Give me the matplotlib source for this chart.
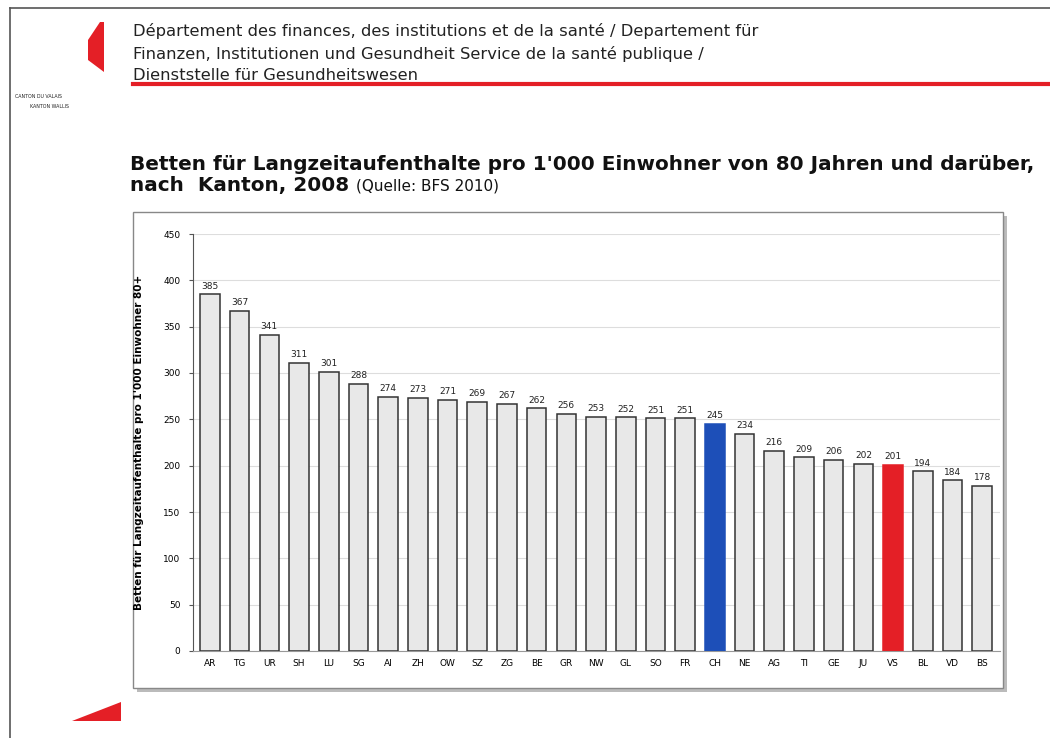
import matplotlib
matplotlib.use("Agg")
import matplotlib.pyplot as plt
from matplotlib.patches import Rectangle, Polygon
from matplotlib.lines import Line2D

plt.rcParams['font.family'] = ['DejaVu Sans']

cantons = ["AR", "TG", "UR", "SH", "LU", "SG", "AI", "ZH", "OW", "SZ", "ZG", "BE", "GR", "NW",
           "GL", "SO", "FR", "CH", "NE", "AG", "TI", "GE", "JU", "VS", "BL", "VD", "BS"]
values = [385, 367, 341, 311, 301, 288, 274, 273, 271, 269, 267, 262, 256, 253,
          252, 251, 251, 245, 234, 216, 209, 206, 202, 201, 194, 184, 178]
highlight = {"CH": "#1d4fb8", "VS": "#e41f26"}
yticks = [0, 50, 100, 150, 200, 250, 300, 350, 400, 450]

W, H = 1050, 738
fig = plt.figure(figsize=(W / 100, H / 100), dpi=100)
fig.patch.set_facecolor("white")

def fx(x):
    return x / W

def fy(y):
    return 1 - y / H

# slide border lines
fig.add_artist(Line2D([fx(10), fx(10)], [fy(8), fy(738)], color="#555555", lw=1.2))
fig.add_artist(Line2D([fx(10), fx(1050)], [fy(8), fy(8)], color="#555555", lw=1.2))

# logo
fig.add_artist(Polygon([(fx(88), fy(40)), (fx(100), fy(22)), (fx(104), fy(22)),
                        (fx(104), fy(72)), (fx(88), fy(60))],
                       closed=True, facecolor="#e41f26", edgecolor="none"))
fig.text(fx(15), fy(96), "CANTON DU VALAIS", fontsize=3.4, color="#222222", va="center")
fig.text(fx(30), fy(107), "KANTON WALLIS", fontsize=3.4, color="#222222", va="center")

# header
fig.add_artist(Line2D([fx(133), fx(1050)], [fy(84), fy(84)], color="#e41f26", lw=3.0))
hdr = ["Département des finances, des institutions et de la santé / Departement für",
       "Finanzen, Institutionen und Gesundheit Service de la santé publique /",
       "Dienststelle für Gesundheitswesen"]
for i, t in enumerate(hdr):
    fig.text(fx(133), fy(31 + 22.5 * i), t, fontsize=11.8, color="#222222", va="center")

# title
fig.text(fx(130), fy(164), "Betten für Langzeitaufenthalte pro 1'000 Einwohner von 80 Jahren und darüber,",
         fontsize=14.4, fontweight="bold", color="#111111", va="center")
fig.text(fx(130), fy(185), "nach  Kanton, 2008", fontsize=14.4, fontweight="bold", color="#111111", va="center")
fig.text(fx(356), fy(186), "(Quelle: BFS 2010)", fontsize=11, color="#111111", va="center")

# chart frame with shadow
fig.add_artist(Rectangle((fx(137), fy(692)), fx(870), 476 / H, facecolor="#bbbbbb", edgecolor="none", zorder=-3))
fig.add_artist(Rectangle((fx(133), fy(688)), fx(870), 476 / H, facecolor="white", edgecolor="#888888", lw=1, zorder=-2))

# bottom-left red wedge
fig.add_artist(Polygon([(fx(72), fy(721)), (fx(121), fy(702)), (fx(121), fy(721))],
                       closed=True, facecolor="#e41f26", edgecolor="none"))

ax = fig.add_axes([fx(193), fy(651), fx(1000 - 193), (651 - 234) / H])
ax.set_zorder(5)
ax.set_facecolor("white")
x = list(range(len(cantons)))
colors = [highlight.get(c, "#e8e8e8") for c in cantons]
edges = [highlight.get(c, "#333333") for c in cantons]
bars = ax.bar(x, values, width=0.66, color=colors, edgecolor=edges, linewidth=1.1, zorder=3)
for xi, v in zip(x, values):
    ax.text(xi, v + 4, str(v), ha="center", va="bottom", fontsize=6.5, color="#222222", zorder=4)

ax.set_ylim(0, 450)
ax.set_xlim(-0.57, 26.6)
ax.set_yticks(yticks)
ax.set_yticklabels([str(t) for t in yticks], fontsize=6.5)
ax.set_xticks(x)
ax.set_xticklabels(cantons, fontsize=6.5)
ax.tick_params(axis="x", length=0, pad=6)
ax.tick_params(axis="y", length=3, width=0.8, color="#555555", pad=6)
ax.yaxis.grid(True, color="#dddddd", lw=0.8, zorder=0)
ax.set_axisbelow(True)
for s in ["top", "right"]:
    ax.spines[s].set_visible(False)
ax.spines["left"].set_color("#555555")
ax.spines["bottom"].set_color("#999999")
ax.set_ylabel("Betten für Langzeitaufenthalte pro 1'000 Einwohner 80+", fontsize=7.5,
              fontweight="bold", labelpad=14)

fig.savefig("out.png", dpi=100, facecolor="white")
